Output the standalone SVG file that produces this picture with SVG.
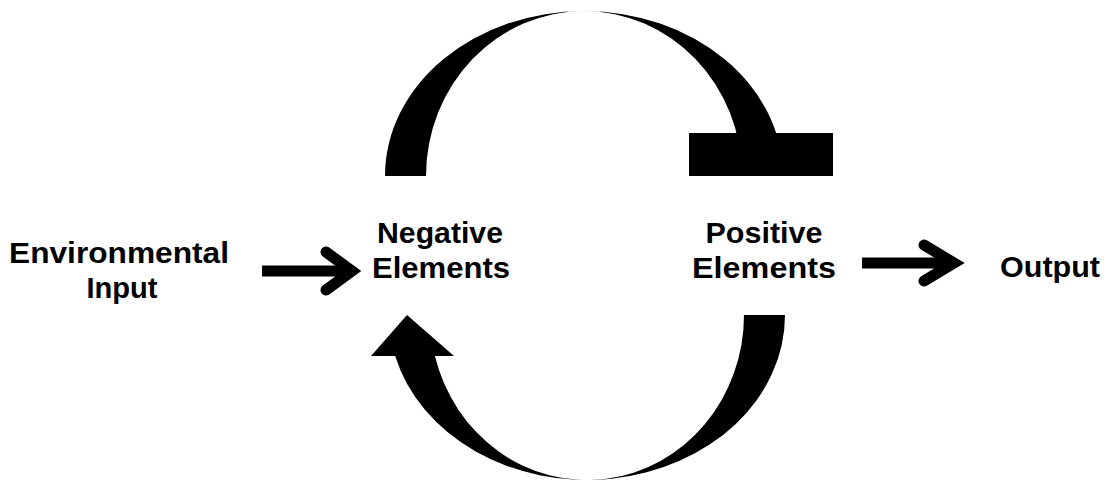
<svg xmlns="http://www.w3.org/2000/svg" width="1109" height="485" viewBox="0 0 1109 485">
  <style>
    .label { font-family: "Liberation Sans", Arial, sans-serif; font-weight: bold; font-size: 29px; fill: #000; text-anchor: middle; }
    .band { fill: #000; stroke: none; }
    .shaft { stroke: #000; stroke-width: 11; fill: none; }
    .chevron { stroke: #000; stroke-width: 11; fill: none; stroke-linecap: round; stroke-linejoin: miter; }
  </style>
  <rect width="1109" height="485" fill="#fff"/>

  <g id="connectors">
    <!-- inhibition arc: negative elements to positive elements, ending in a flat bar -->
    <g id="inhibit-arc">
      <path class="band" d="M385,176 A199,165 0 0 1 783,176 L742,176 A158,165 0 0 0 426,176 Z"/>
      <rect class="band" x="689" y="133" width="144" height="43"/>
    </g>
    <!-- activation arc: positive elements back to negative elements -->
    <g id="feedback-arc">
      <path class="band" d="M785,315 A198,165 0 0 1 395.2,356 L371,356 L407,315 L454,356 L434.9,356 A157,165 0 0 0 744,315 Z"/>
    </g>
    <!-- input arrow -->
    <g id="input-arrow">
      <line class="shaft" x1="262" y1="271" x2="350" y2="271"/>
      <polyline class="chevron" points="326,252 352,271 326,290"/>
    </g>
    <!-- output arrow -->
    <g id="output-arrow">
      <line class="shaft" x1="862" y1="263" x2="950" y2="263"/>
      <polyline class="chevron" points="924,245 954,263 924,281"/>
    </g>
  </g>

  <g id="node-environmental-input">
    <text class="label" x="119" y="263" textLength="220" lengthAdjust="spacingAndGlyphs">Environmental</text>
    <text class="label" x="122" y="298" textLength="71" lengthAdjust="spacingAndGlyphs">Input</text>
  </g>
  <g id="node-negative-elements">
    <text class="label" x="440" y="243" textLength="126" lengthAdjust="spacingAndGlyphs">Negative</text>
    <text class="label" x="441" y="278" textLength="138" lengthAdjust="spacingAndGlyphs">Elements</text>
  </g>
  <g id="node-positive-elements">
    <text class="label" x="764" y="243" textLength="117" lengthAdjust="spacingAndGlyphs">Positive</text>
    <text class="label" x="764" y="278" textLength="144" lengthAdjust="spacingAndGlyphs">Elements</text>
  </g>
  <g id="node-output">
    <text class="label" x="1050" y="277" textLength="100" lengthAdjust="spacingAndGlyphs">Output</text>
  </g>
</svg>
